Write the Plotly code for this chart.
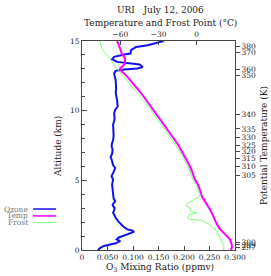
import plotly.graph_objects as go

# ---------------- data ----------------
ozone_alt = [0.0, 0.15, 0.29, 0.48, 0.64, 0.76, 0.9, 1.0, 1.15, 1.3, 1.4, 1.48, 1.65, 1.84, 2.05,
             2.31, 2.5, 2.67, 2.85, 3.03, 3.15, 3.26, 3.4, 3.5, 3.7, 3.98, 4.34, 4.7, 5.05, 5.3,
             5.6, 5.88, 6.1, 6.3, 6.5, 6.7, 6.9, 7.2, 7.45, 7.67, 7.9, 8.2, 8.6, 9.0, 9.4,
             9.8, 10.05, 10.3, 10.7, 11.0, 11.3, 11.6, 12.2, 12.5, 12.67, 12.86, 12.96, 13.03,
             13.14, 13.31, 13.38, 13.5, 13.7, 13.86, 14.03, 14.1, 14.34, 14.57, 14.69, 14.93, 15.0]
ozone_ppmv = [0.031, 0.036, 0.043, 0.066, 0.075, 0.068, 0.072, 0.079, 0.090, 0.102, 0.098, 0.089, 0.082, 0.076, 0.071,
              0.066, 0.063, 0.061, 0.063, 0.064, 0.061, 0.060, 0.063, 0.065, 0.062, 0.061, 0.060, 0.059, 0.061, 0.058,
              0.062, 0.065, 0.061, 0.060, 0.058, 0.056, 0.059, 0.060, 0.058, 0.059, 0.061, 0.062, 0.062, 0.061, 0.064,
              0.063, 0.065, 0.070, 0.069, 0.068, 0.066, 0.067, 0.066, 0.064, 0.063, 0.066, 0.083, 0.109,
              0.119, 0.113, 0.096, 0.069, 0.059, 0.063, 0.083, 0.095, 0.096, 0.106, 0.129, 0.156, 0.160]

temp_alt = [0.0, 0.2, 0.45, 0.76, 1.1, 1.48, 1.84, 2.2, 2.5, 2.9, 3.4, 3.86, 4.3, 4.69, 5.05, 5.4,
            5.76, 6.1, 6.48, 7.0, 7.55, 8.0, 8.39, 9.0, 9.5, 10.05, 10.55, 11.0, 11.39, 11.8, 12.21,
            12.5, 12.81, 13.05, 13.2, 13.41, 13.76, 14.12, 14.48, 14.8, 15.0]
temp_c = [26.9, 27.6, 27.3, 26.0, 22.5, 18.4, 15.8, 14.3, 12.6, 10.4, 7.0, 4.0, 2.6, 1.0, -1.4, -2.6,
          -4.2, -5.8, -8.0, -11.0, -14.6, -18.0, -21.0, -25.5, -29.8, -34.0, -37.5, -41.5, -44.8, -48.3, -52.2,
          -55.0, -58.9, -60.0, -57.8, -56.3, -56.3, -58.9, -60.2, -61.8, -62.5]

frost_alt = [0.0, 0.2, 0.45, 0.88, 1.1, 1.36, 1.6, 1.84, 2.0, 2.14, 2.19, 2.31, 2.45, 2.55, 2.67, 2.79,
             3.03, 3.19, 3.38, 3.55, 3.74, 3.86, 4.0, 4.3, 4.69, 5.05, 5.4, 5.76, 6.1, 6.48, 7.0, 7.55,
             8.0, 8.39, 9.0, 9.5, 10.05, 10.31, 10.91, 11.62, 12.21, 12.81, 13.05, 13.53, 14.0, 14.48,
             14.8, 15.0]
frost_c = [21.0, 21.3, 20.5, 18.3, 17.0, 15.5, 12.5, 9.8, 6.5, 3.8, -5.3, -7.2, -6.5, -5.8, 0.0, -4.7,
           -5.3, -9.0, -6.6, -3.5, 0.5, 2.5, 2.6, 1.2, -0.5, -3.0, -4.2, -5.8, -7.5, -9.8, -13.0, -16.6,
           -20.0, -23.0, -27.5, -31.8, -36.0, -38.0, -43.2, -49.8, -55.0, -60.2, -62.8, -66.7, -70.6, -74.5,
           -75.5, -76.2]

ozone_ticks = [0, 0.05, 0.10, 0.15, 0.20, 0.25, 0.30]
ozone_ticklabels = ["0", "0.050", "0.100", "0.150", "0.200", "0.250", "0.300"]
alt_ticks = [0, 5, 10, 15]
temp_ticks = [-60, -30, 0]
temp_ticklabels = ["\u221260", "\u221230", "0"]
theta_alt = [14.64, 14.21, 12.98, 12.5, 9.76, 8.69, 8.07, 7.5, 7.05, 6.55, 6.0, 5.36, 0.55, 0.36, 0.2]
theta_labels = ["380", "370", "360", "350", "340", "335", "330", "325", "320", "315", "310", "305", "300", "299", "297"]

series_names = ["Ozone", "Temp", "Frost"]
series_colors = ["#1010f0", "#ff00ff", "#77ff77"]

# ---------------- figure ----------------
FONT = "DejaVu Serif"
fig = go.Figure()
fig.add_trace(go.Scatter(x=ozone_ppmv, y=ozone_alt, mode="lines", name=series_names[0],
                         line=dict(color=series_colors[0], width=2), xaxis="x", yaxis="y"))
fig.add_trace(go.Scatter(x=temp_c, y=temp_alt, mode="lines", name=series_names[1],
                         line=dict(color=series_colors[1], width=2), xaxis="x2", yaxis="y2"))
fig.add_trace(go.Scatter(x=frost_c, y=frost_alt, mode="lines", name=series_names[2],
                         line=dict(color=series_colors[2], width=1), xaxis="x2", yaxis="y2"))

axis_common = dict(showgrid=False, zeroline=False, showline=True, linecolor="#444", linewidth=1,
                   tickcolor="#444", tickfont=dict(family=FONT, size=7.5, color="#222"))

fig.update_layout(
    width=271, height=276, autosize=False,
    margin=dict(l=82, r=36, t=41, b=26),
    paper_bgcolor="white", plot_bgcolor="white",
    showlegend=False,
    xaxis=dict(range=[0, 0.3], tickvals=ozone_ticks, ticktext=ozone_ticklabels,
               ticks="inside", ticklen=4, **axis_common),
    yaxis=dict(range=[0, 15], tickvals=alt_ticks, ticks="inside", ticklen=5,
               minor=dict(dtick=1, ticks="inside", ticklen=3, tickcolor="#444"), **axis_common),
    xaxis2=dict(range=[-90, 30], overlaying="x", side="top", anchor="y2", tickvals=temp_ticks,
                ticktext=temp_ticklabels, ticks="inside", ticklen=4, **axis_common),
    yaxis2=dict(range=[0, 15], overlaying="y", side="right", anchor="x2", tickvals=theta_alt,
                ticktext=theta_labels, ticks="outside", ticklen=4, **axis_common),
)

def ann(text, x, y, size, xanchor="center", color="#222", **kw):
    fig.add_annotation(text=text, x=x, y=y, xref="paper", yref="paper", showarrow=False,
                       xanchor=xanchor, yanchor="middle",
                       font=dict(family=FONT, size=size, color=color), **kw)

ann("URI   July 12, 2006", 0.51, 1.148, 9)
ann("Temperature and Frost Point (\u00b0C)", 0.51, 1.086, 9)
ann("Altitude (km)", -0.157, 0.498, 9, textangle=-90)
ann("Potential Temperature (K)", 1.19, 0.498, 9, textangle=-90)
ann("O<sub>3</sub> Mixing Ratio (ppmv)", 0.51, -0.086, 9)

# legend (text left, sample line right)
leg_y = [0.196, 0.163, 0.131]
for name, col, yy, w in zip(series_names, series_colors, leg_y, [1.5, 1.5, 1]):
    ann(name, -0.34, yy, 7.5, xanchor="right", color="#777")
    fig.add_shape(type="line", xref="paper", yref="paper", x0=-0.32, x1=-0.17, y0=yy, y1=yy,
                  line=dict(color=col, width=w))

fig.write_html("out.html", config={"displayModeBar": False},
               post_script="document.body.style.margin='0';document.body.style.padding='0';")
